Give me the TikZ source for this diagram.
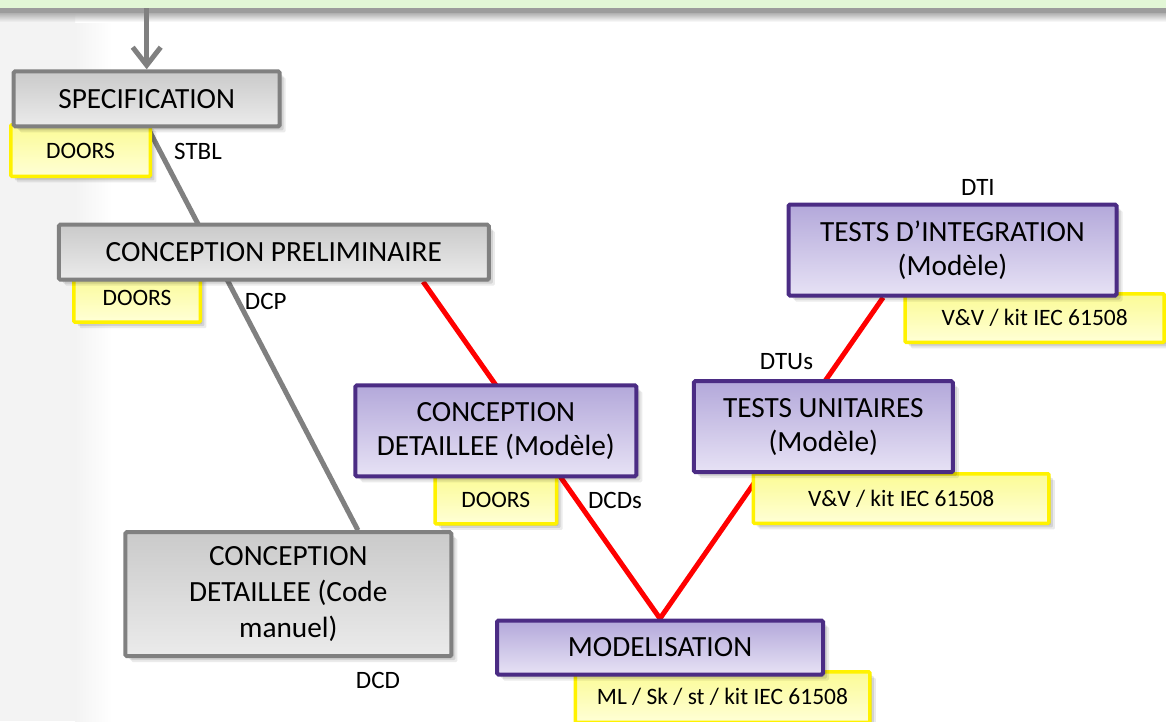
\documentclass[tikz,border=0pt]{standalone}
\usepackage{fontspec}
\setmainfont{Carlito}
\usetikzlibrary{calc,shadows,arrows.meta}

\definecolor{boxgray}{HTML}{808080}
\definecolor{grayTop}{HTML}{CACACA}
\definecolor{grayBot}{HTML}{EBEBEB}
\definecolor{purpleEdge}{HTML}{4B2C84}
\definecolor{purpleTop}{HTML}{B3A8DA}
\definecolor{purpleBot}{HTML}{E7E2F5}
\definecolor{tagTop}{HTML}{FBFB96}
\definecolor{tagBot}{HTML}{FFFFD6}
\definecolor{barGreen}{HTML}{E2F7D6}
\definecolor{barEdge}{HTML}{9C9C9C}
\definecolor{sideGray}{HTML}{F3F3F3}

% drawing order: page, connectors, tool tags, process boxes
\pgfdeclarelayer{page}
\pgfdeclarelayer{links}
\pgfdeclarelayer{tags}
\pgfsetlayers{page,links,tags,main}

\begin{document}
\begin{tikzpicture}[x=1pt,y=-1pt,
  softshadow/.style={
      general shadow={fill=black, opacity=0.10, shadow xshift=2pt, shadow yshift=-2pt},
      general shadow={fill=black, opacity=0.10, shadow xshift=4pt, shadow yshift=-4pt},
      general shadow={fill=black, opacity=0.08, shadow xshift=6pt, shadow yshift=-6pt}},
  mainbox/.style={line width=4pt, rounded corners=1.5pt, inner sep=0pt,
      align=center, font=\fontsize{29.3}{34}\selectfont, softshadow},
  graybox/.style={mainbox, draw=boxgray, top color=grayTop, bottom color=grayBot},
  purplebox/.style={mainbox, draw=purpleEdge, top color=purpleTop, bottom color=purpleBot},
  tagbox/.style={line width=3.5pt, draw=yellow, top color=tagTop, bottom color=tagBot,
      rounded corners=1pt, inner sep=0pt, font=\fontsize{23.5}{28}\selectfont, softshadow},
  lbl/.style={inner sep=0pt, font=\fontsize{25}{30}\selectfont},
  grayline/.style={draw=boxgray, line width=5pt},
  redline/.style={draw=red, line width=5pt, line join=miter},
]
\useasboundingbox (0,0) rectangle (1166,721);

% page: light side strip and the frame above
\begin{pgfonlayer}{page}
\fill[sideGray] (0,22) rectangle (75,721);
\shade[left color=sideGray, right color=white] (75,22) rectangle (112,721);
\node[name=topbar, fill=barGreen, anchor=north west, inner sep=0pt,
      minimum width=1166pt, minimum height=8pt] at (0,0) {};
\fill[barEdge] (0,8) rectangle (1166,13);
\shade[top color=barEdge!80, bottom color=white] (0,13) rectangle (1166,22);
\shade[top color=barEdge!80, bottom color=sideGray] (0,13) rectangle (75,22);
\end{pgfonlayer}

% process boxes
\path
  node[graybox, minimum width=266pt, minimum height=55pt] (spec) at (146.7,98.8) {SPECIFICATION}
  node[graybox, minimum width=430pt, minimum height=55pt] (cp) at (273.8,252.2) {CONCEPTION PRELIMINAIRE}
  node[graybox, minimum width=326pt, minimum height=124pt, font=\fontsize{29.3}{36}\selectfont]
      (cdc) at (288.3,594.2) {CONCEPTION\\DETAILLEE (Code\\manuel)}
  node[purplebox, minimum width=281pt, minimum height=91pt] (cdm) at (495.8,430.8) {CONCEPTION\\DETAILLEE (Modèle)}
  node[purplebox, minimum width=326pt, minimum height=54pt] (mod) at (660,647.5) {MODELISATION}
  node[purplebox, minimum width=259pt, minimum height=91pt] (tu) at (823.3,426.7) {TESTS UNITAIRES\\(Modèle)}
  node[purplebox, minimum width=328pt, minimum height=91pt] (ti) at (952.5,250) {TESTS D’INTEGRATION\\(Modèle)};

% tool tags, tucked under the boxes they belong to
\begin{pgfonlayer}{tags}
\path
  node[tagbox, minimum width=139.5pt, minimum height=51.5pt] (t1) at (80.5,150.5) {DOORS}
  node[tagbox, minimum width=126.5pt, minimum height=48pt] (t2) at (137,298) {DOORS}
  node[tagbox, minimum width=121.5pt, minimum height=48.5pt] (t3) at (495.8,499.5) {DOORS}
  node[tagbox, minimum width=295.5pt, minimum height=49.5pt] (t4) at (901.2,498.5) {V\&V / kit IEC 61508}
  node[tagbox, minimum width=259pt, minimum height=48.5pt] (t5) at (1034.7,318) {V\&V / kit IEC 61508}
  node[tagbox, minimum width=294.5pt, minimum height=50.5pt] (t6) at (722.5,697) {ML / Sk / st / kit IEC 61508};
\end{pgfonlayer}

% connectors: the left (gray) branch and the V of the model-based flow (red)
\begin{pgfonlayer}{links}
\draw[grayline] ($(spec.south west)!0.505!(spec.south east)$)
             -- ($(cdc.north west)!0.711!(cdc.north east)$);
\draw[redline] ($(cp.south west)!0.844!(cp.south east)$)
            -- (mod.north)
            -- ($(ti.south west)!0.291!(ti.south east)$);
\end{pgfonlayer}

% entry arrow from the frame above
\draw[grayline, -{Straight Barb[length=18pt,width=28pt]}] (topbar.south -| spec.north) -- (spec.north);

% document labels
\node[lbl] (lstbl) at (198,151.3) {STBL};
\node[lbl] (ldcp) at (265.8,301.7) {DCP};
\node[lbl] (ldcds) at (615,500) {DCDs};
\node[lbl] (ldcd) at (378,680) {DCD};
\node[lbl] (ldtus) at (786.5,361.7) {DTUs};
\node[lbl] (ldti) at (978,187) {DTI};
\end{tikzpicture}
\end{document}
